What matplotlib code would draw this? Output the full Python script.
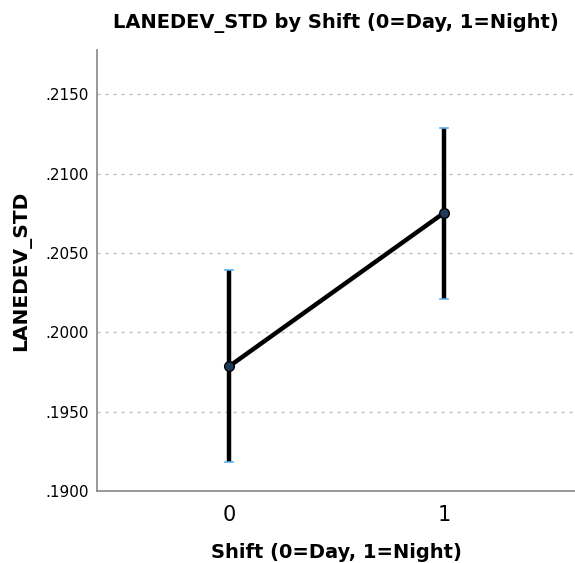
import numpy as np
import matplotlib
matplotlib.use("Agg")
import matplotlib.pyplot as plt

plt.rcParams['font.family'] = ['DejaVu Sans']

# values
shift = [0, 1]
shift_labels = ['0', '1']
mean_lanedev = [0.19785, 0.20753]
ci_low = [0.19184, 0.20209]
ci_high = [0.20392, 0.21291]
y_ticks = [0.1900, 0.1950, 0.2000, 0.2050, 0.2100, 0.2150]

fig = plt.figure(figsize=(5.75, 5.63), dpi=100)
ax = fig.add_axes([97 / 575, 1 - 491 / 563, (575 - 97) / 575, (491 - 50) / 563])

means = np.array(mean_lanedev)
yerr = np.array([means - np.array(ci_low), np.array(ci_high) - means])

ax.errorbar(shift, means, yerr=yerr, fmt='none', ecolor='black',
            elinewidth=3.2, capsize=0, zorder=3)
# light blue caps at the bar ends
for x, lo, hi in zip(shift, ci_low, ci_high):
    ax.plot([x - 0.02, x + 0.02], [lo, lo], color='#5aaee8', lw=1.2, zorder=4)
    ax.plot([x - 0.02, x + 0.02], [hi, hi], color='#5aaee8', lw=1.2, zorder=4)

ax.plot(shift, means, color='black', lw=3.2, marker='o', markersize=7,
        markerfacecolor='#1f3a5a', markeredgecolor='black', markeredgewidth=1,
        zorder=5)

ax.set_xlim(-0.614, 1.61)
ax.set_ylim(0.1900, 0.2178)
ax.set_xticks(shift)
ax.set_xticklabels(shift_labels, fontsize=15)
ax.set_yticks(y_ticks)
ax.set_yticklabels(['.%04d' % round(v * 10000) for v in y_ticks], fontsize=11)
ax.tick_params(length=0, pad=6)
ax.tick_params(axis='x', pad=10)

ax.yaxis.grid(True, color='#bdbdbd', linestyle=(0, (2.5, 3.9)), lw=0.9)
ax.set_axisbelow(True)
for side in ['top', 'right']:
    ax.spines[side].set_visible(False)
for side in ['left', 'bottom']:
    ax.spines[side].set_color('#888888')
    ax.spines[side].set_linewidth(1.2)

ax.set_title('LANEDEV_STD by Shift (0=Day, 1=Night)', fontsize=14,
             fontweight='bold', pad=16)
ax.set_xlabel('Shift (0=Day, 1=Night)', fontsize=14, fontweight='bold',
              labelpad=13)
ax.set_ylabel('LANEDEV_STD', fontsize=14.5, fontweight='bold', labelpad=10)

fig.savefig('out.png', dpi=100)
